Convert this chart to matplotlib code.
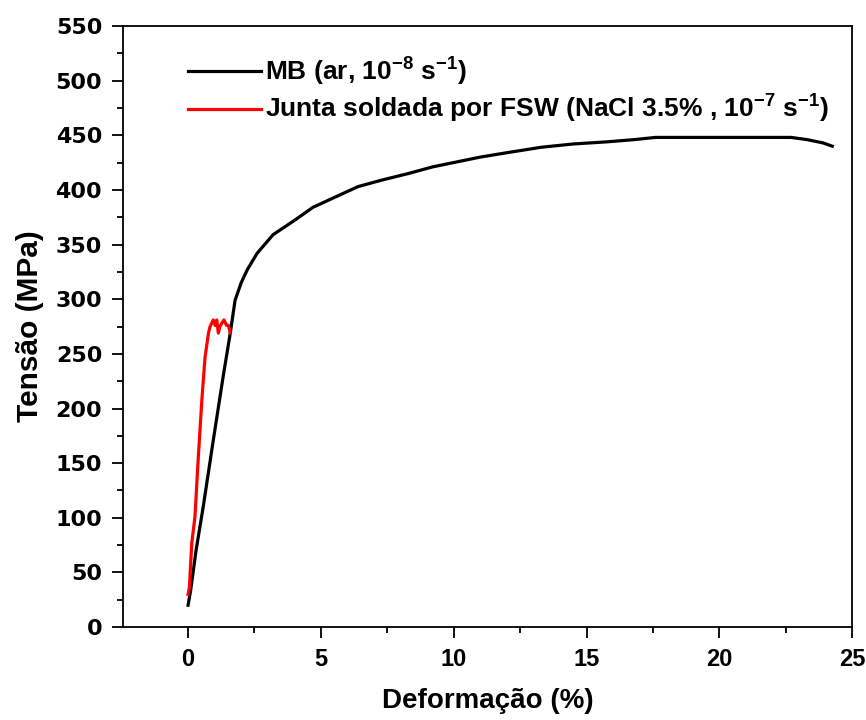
import matplotlib
matplotlib.use("Agg")
import matplotlib.pyplot as plt
from matplotlib.ticker import MultipleLocator

plt.rcParams['font.family'] = ['Liberation Sans', 'DejaVu Sans']
plt.rcParams['font.weight'] = 'bold'
plt.rcParams['mathtext.fontset'] = 'custom'
plt.rcParams['mathtext.rm'] = 'Liberation Sans:bold'
plt.rcParams['mathtext.default'] = 'rm'

# Base metal in air (strain %, stress MPa)
mb_strain = [0.0, 0.1, 0.3, 0.57, 0.95, 1.32, 1.59, 1.77, 2.0, 2.23, 2.6, 3.2,
             4.0, 4.7, 5.5, 6.4, 7.3, 8.3, 9.2, 10.2, 11.0, 12.0, 13.3, 14.5,
             15.8, 16.8, 17.6, 19.0, 20.5, 21.5, 22.7, 23.3, 23.9, 24.25]
mb_stress = [20, 34, 70, 110, 171, 229, 269, 299, 315, 327, 342, 359,
             372, 384, 393, 403, 409, 415, 421, 426, 430, 434, 439, 442,
             444, 446, 448, 448, 448, 448, 448, 446, 443, 440]

# FSW joint in NaCl 3.5% (strain %, stress MPa)
fsw_strain = [0.0, 0.05, 0.14, 0.26, 0.38, 0.52, 0.64, 0.77, 0.83, 0.95,
              1.02, 1.08, 1.14, 1.2, 1.27, 1.35, 1.45, 1.52, 1.59]
fsw_stress = [30, 36, 77, 101, 153, 208, 247, 269, 275, 281,
              276, 281, 269, 275, 278, 281, 276, 276, 269]

mb_label = r'MB (ar, 10$^{-8}$ s$^{-1}$)'
fsw_label = r'Junta soldada por FSW (NaCl 3.5% , 10$^{-7}$ s$^{-1}$)'

fig = plt.figure(figsize=(8.66, 7.2), dpi=100)
ax = fig.add_axes([0.142, 0.129, 0.842, 0.835])

ax.plot(mb_strain, mb_stress, color='black', lw=2.3, label=mb_label)
ax.plot(fsw_strain, fsw_stress, color='red', lw=2.3, label=fsw_label)

ax.set_xlim(-2.45, 25)
ax.set_ylim(0, 550)
ax.xaxis.set_major_locator(MultipleLocator(5))
ax.xaxis.set_minor_locator(MultipleLocator(2.5))
ax.yaxis.set_major_locator(MultipleLocator(50))
ax.yaxis.set_minor_locator(MultipleLocator(25))
ax.tick_params(which='major', direction='out', length=8, width=1.3)
ax.tick_params(which='minor', direction='out', length=4.5, width=1.3)
ax.tick_params(axis='x', which='major', pad=7, labelsize=17)
ax.tick_params(axis='y', which='major', pad=7)
for lbl in ax.get_yticklabels():
    lbl.set_fontfamily('DejaVu Sans')
    lbl.set_fontsize(16)
    lbl.set_fontweight('bold')
for s in ax.spines.values():
    s.set_linewidth(1.3)

ax.set_xlabel('Deformação (%)', fontsize=20, fontweight='bold', labelpad=12)
ax.set_ylabel('Tensão (MPa)', fontsize=21.5, fontweight='bold', labelpad=8)

leg = ax.legend(loc='upper left', bbox_to_anchor=(0.075, 0.968), frameon=False,
                fontsize=19, handlelength=2.75, handletextpad=0.15,
                labelspacing=0.2, borderaxespad=0)

fig.savefig('out.png', dpi=100)
